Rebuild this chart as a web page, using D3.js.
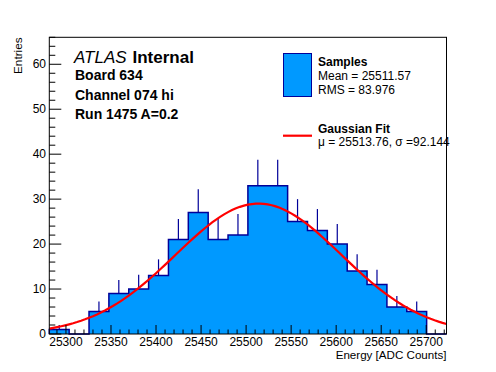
<!DOCTYPE html>
<html><head><meta charset="utf-8">
<script src="https://cdn.jsdelivr.net/npm/d3@7"></script>
<style>
html,body{margin:0;padding:0;background:#fff;}
svg{display:block;font-family:"Liberation Sans",Arial,Helvetica,sans-serif;}
</style></head>
<body>
<svg id="c" width="496" height="372"></svg>
<script>
// ---- data ----
const histLow = 25281.5;          // lower edge of first bin
const histBinWidth = 22.05;       // bin width
const counts = [1,0,5,9,10,13,21,27,21,22,33,33,25,23,20,14,11,6,5,0];
const xDomain = [25281.5, 25722.5];
const yDomain = [0, 66];
const xTickValues = [25300,25350,25400,25450,25500,25550,25600,25650,25700];
const yTickValues = [0,10,20,30,40,50,60];
const fitMu = 25513.76, fitSigma = 92.144, fitAmp = 29.0;
const infoLines = ["Board 634","Channel 074 hi","Run 1475 A=0.2"];
const legendSamples = ["Samples","Mean = 25511.57","RMS = 83.976"];
const legendFit = ["Gaussian Fit","\u03bc = 25513.76, \u03c3 =92.144"];

// ---- layout ----
const L=49.3, R=446.5, T=37.3, B=334;
const fillCol="#0099ff", lineCol="#000099", fitCol="#ff0000";

const svg=d3.select("#c");
const x=d3.scaleLinear().domain(xDomain).range([L,R]);
const y=d3.scaleLinear().domain(yDomain).range([B,T]);

const bins=counts.map((c,i)=>({x0:histLow+i*histBinWidth,x1:histLow+(i+1)*histBinWidth,c}));

// step outline points
const pts=[[bins[0].x0,0]];
bins.forEach(b=>{pts.push([b.x0,b.c]);pts.push([b.x1,b.c]);});
pts.push([bins[bins.length-1].x1,0]);
const stepLine=d3.line().x(d=>x(d[0])).y(d=>y(d[1]));

// fill as one shape (no seams)
svg.append("path").attr("d",stepLine(pts)+"Z").attr("fill",fillCol).attr("stroke","none");
// outline
svg.append("path").attr("d",stepLine(pts))
  .attr("fill","none").attr("stroke",lineCol).attr("stroke-width",1.5);

// error bars (upper part)
svg.append("g").selectAll("line").data(bins.filter(b=>b.c>0)).join("line")
  .attr("x1",d=>x((d.x0+d.x1)/2)).attr("x2",d=>x((d.x0+d.x1)/2))
  .attr("y1",d=>y(d.c)).attr("y2",d=>y(d.c+Math.sqrt(d.c)))
  .attr("stroke",lineCol).attr("stroke-width",1.2);

// fit curve
const fx=d3.range(0,101).map(i=>xDomain[0]+(xDomain[1]-xDomain[0])*i/100);
const gauss=v=>fitAmp*Math.exp(-0.5*((v-fitMu)/fitSigma)**2);
svg.append("path").attr("d",d3.line().x(v=>x(v)).y(v=>y(gauss(v)))(fx))
  .attr("fill","none").attr("stroke",fitCol).attr("stroke-width",2.2);

// frame
svg.append("rect").attr("x",L).attr("y",T).attr("width",R-L).attr("height",B-T)
  .attr("fill","none").attr("stroke","#000").attr("stroke-width",1);

// x axis ticks
const xMinor=d3.range(25290,25721,10);
const ax=svg.append("g");
ax.selectAll("line").data(xMinor).join("line")
  .attr("x1",d=>x(d)).attr("x2",d=>x(d))
  .attr("y1",B).attr("y2",d=>B-(d%50===0?9:4.5))
  .attr("stroke","#000");
ax.selectAll("text").data(xTickValues).join("text")
  .attr("x",d=>x(d)).attr("y",345.5).attr("text-anchor","middle")
  .attr("font-size",12).text(d=>d);

// y axis ticks
const yMinor=d3.range(0,67,2);
const ay=svg.append("g");
ay.selectAll("line").data(yMinor).join("line")
  .attr("x1",L).attr("x2",d=>L+(d%10===0?12:6))
  .attr("y1",d=>y(d)).attr("y2",d=>y(d))
  .attr("stroke","#000");
ay.selectAll("text").data(yTickValues).join("text")
  .attr("x",46).attr("y",d=>y(d)+4).attr("text-anchor","end")
  .attr("font-size",12).text(d=>d);

// axis titles
svg.append("text").attr("x",R).attr("y",359).attr("text-anchor","end")
  .attr("font-size",11.6).text("Energy [ADC Counts]");
svg.append("text").attr("transform","translate(22,"+T+") rotate(-90)")
  .attr("text-anchor","end").attr("font-size",11.8).text("Entries");

// ATLAS label
svg.append("text").attr("x",74).attr("y",63).attr("font-size",17)
  .attr("font-style","italic").text("ATLAS");
svg.append("text").attr("x",132.5).attr("y",63).attr("font-size",17)
  .attr("font-weight","bold").text("Internal");
svg.selectAll("text.info").data(infoLines).join("text").attr("class","info")
  .attr("x",75).attr("y",(d,i)=>80+i*19.5).attr("font-size",14)
  .attr("font-weight","bold").text(d=>d);

// legend
svg.append("rect").attr("x",283.5).attr("y",53.5).attr("width",28).attr("height",43)
  .attr("fill",fillCol).attr("stroke",lineCol).attr("stroke-width",1);
svg.append("text").attr("x",318).attr("y",65.5).attr("font-size",12)
  .attr("font-weight","bold").text(legendSamples[0]);
svg.append("text").attr("x",318).attr("y",79.5).attr("font-size",12).text(legendSamples[1]);
svg.append("text").attr("x",318).attr("y",93.5).attr("font-size",12).text(legendSamples[2]);
svg.append("line").attr("x1",283).attr("x2",312).attr("y1",135.7).attr("y2",135.7)
  .attr("stroke",fitCol).attr("stroke-width",2.2);
svg.append("text").attr("x",318).attr("y",132.5).attr("font-size",12)
  .attr("font-weight","bold").text(legendFit[0]);
svg.append("text").attr("x",318).attr("y",146).attr("font-size",12).text(legendFit[1]);
</script>
</body></html>
